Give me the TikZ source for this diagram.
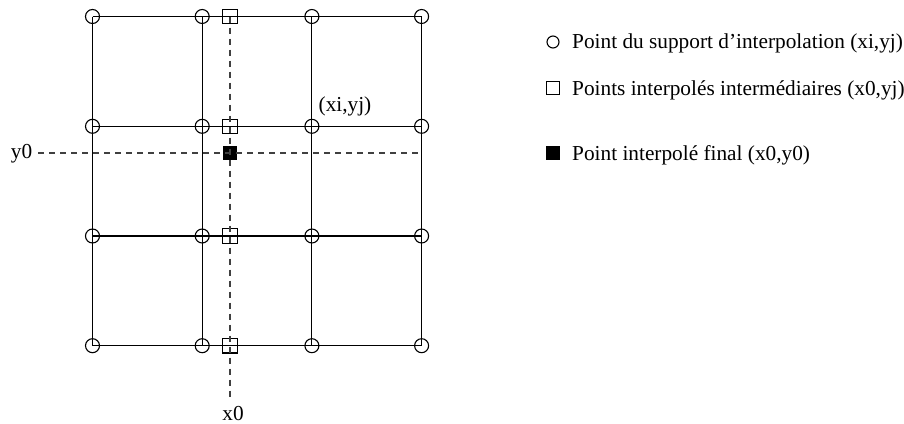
\documentclass[tikz,border=0pt]{standalone}
\usepackage{fontspec}
\setmainfont{Liberation Serif}
\begin{document}
\begin{tikzpicture}[x=1pt,y=-1pt,
  gridline/.style={line width=1.1pt, black},
  supp/.style={circle, draw, line width=1.1pt, minimum size=14pt, inner sep=0pt},
  inter/.style={rectangle, draw, line width=1.1pt, minimum size=14.5pt, inner sep=0pt},
  final/.style={rectangle, fill=black, minimum size=14.5pt, inner sep=0pt},
  dline/.style={dash pattern=on 6pt off 5pt, line width=1.1pt, black!75},
  lab/.style={font=\fontsize{21.3}{25}\selectfont, inner sep=0pt}
]
\useasboundingbox (0,0) rectangle (904,423);
% support points
\foreach \i/\x in {1/92.5,2/202.2,3/311.9,4/421.6}
  \foreach \j/\y in {1/16.5,2/126.3,3/236,4/345.7}
    \node[supp] (p\i\j) at (\x,\y) {};
% grid lines
\foreach \j in {1,2,3,4} {
  \draw[gridline] (p1\j.center) -- (p4\j.center);
  \draw[gridline] (p\j1.center) -- (p\j4.center);
}
% intermediate points
\foreach \j/\y in {1/16.5,2/126.3,3/236,4/345.7}
  \node[inter] (s\j) at (230,\y) {};
\node[final] (f) at (230,153) {};
% dashed lines
\coordinate (vb) at (230,400);
\coordinate (hl) at (38,153);
\coordinate (hr) at (421.6,153);
\draw[dline] (s1.center) -- (vb);
\draw[dline] (hl) -- (hr);
% labels
\node[lab, anchor=base] (ly) at (21.5,158) {y0};
\node[lab, anchor=base] (lx) at (233,420) {x0};
\node[lab, anchor=base] (lxy) at (345,111) {(xi,yj)};
% legend
\node[supp, minimum size=12pt] (l1) at (553,42) {};
\node[inter, minimum size=12.5pt] (l2) at (553,88) {};
\node[final, minimum size=13.5pt] (l3) at (553,153) {};
\node[lab, anchor=base west] (t1) at (572,48.5) {Point du support d’interpolation (xi,yj)};
\node[lab, anchor=base west] (t2) at (572,95) {Points interpolés intermédiaires (x0,yj)};
\node[lab, anchor=base west] (t3) at (572,160) {Point interpolé final (x0,y0)};
\end{tikzpicture}
\end{document}
